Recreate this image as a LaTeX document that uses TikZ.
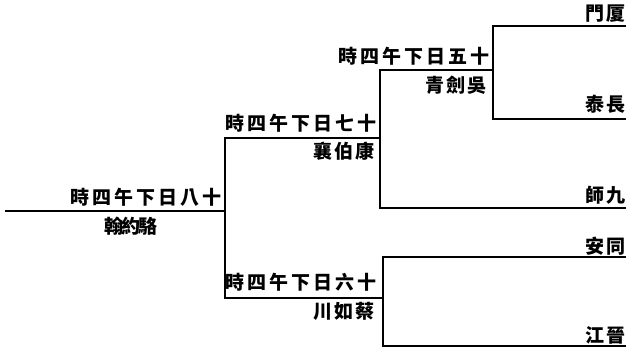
\documentclass[tikz,border=0pt]{standalone}
\usepackage{fontspec}
\newfontfamily\cjk{Noto Sans CJK TC}
\makeatletter
\newcommand\spreadtext[2]{\@tfor\sp@c:=#2\do{\makebox[#1]{\sp@c}}}
\makeatother
\begin{document}
\begin{tikzpicture}[x=1pt,y=-1pt,
  bracket/.style={line width=1.6pt, line join=miter},
  lbl/.style={inner sep=0pt, font=\cjk\bfseries\fontsize{19}{19}\selectfont, anchor=base east}]
\useasboundingbox (0,0) rectangle (626,350);
% junction coordinates
\coordinate (f0) at (5,211);   \coordinate (f1) at (225,211);
\coordinate (s1l) at (225,138); \coordinate (s1r) at (380,138);
\coordinate (s2l) at (225,298); \coordinate (s2r) at (383,298);
\coordinate (q1l) at (380,70);  \coordinate (q1r) at (493,70);
\coordinate (l1a) at (493,26);  \coordinate (l1b) at (626,26);
\coordinate (l2a) at (493,119); \coordinate (l2b) at (626,119);
\coordinate (l3a) at (380,208); \coordinate (l3b) at (626,208);
\coordinate (l4a) at (383,257); \coordinate (l4b) at (626,257);
\coordinate (l5a) at (383,346); \coordinate (l5b) at (626,346);
% bracket lines
\draw[bracket] (f0) -- (f1);
\draw[bracket] (s1r) -- (s1l) -- (s2l) -- (s2r);
\draw[bracket] (q1r) -- (q1l) -- (l3a) -- (l3b);
\draw[bracket] (l1b) -- (l1a) -- (l2a) -- (l2b);
\draw[bracket] (l4b) -- (l4a) -- (l5a) -- (l5b);
% dates and winners
\node[lbl] (d8) at (223.5,204) {\spreadtext{22pt}{時四午下日八十}};
\node[lbl] (n8) at (157,233) {\spreadtext{17pt}{翰約駱}};
\node[lbl] (d7) at (378.5,131) {\spreadtext{22pt}{時四午下日七十}};
\node[lbl] (n7) at (376,158) {\spreadtext{21pt}{襄伯康}};
\node[lbl] (d6) at (378.5,289) {\spreadtext{22pt}{時四午下日六十}};
\node[lbl] (n6) at (376,318) {\spreadtext{21pt}{川如蔡}};
\node[lbl] (d5) at (491.5,64) {\spreadtext{22pt}{時四午下日五十}};
\node[lbl] (n5) at (488,93) {\spreadtext{21pt}{青劍吳}};
% entrants
\node[lbl] (e1) at (627,21) {\spreadtext{21pt}{門厦}};
\node[lbl] (e2) at (627,112) {\spreadtext{21pt}{泰長}};
\node[lbl] (e3) at (627,202) {\spreadtext{21pt}{師九}};
\node[lbl] (e4) at (627,253) {\spreadtext{21pt}{安同}};
\node[lbl] (e5) at (627,342) {\spreadtext{21pt}{江晉}};
\end{tikzpicture}
\end{document}
